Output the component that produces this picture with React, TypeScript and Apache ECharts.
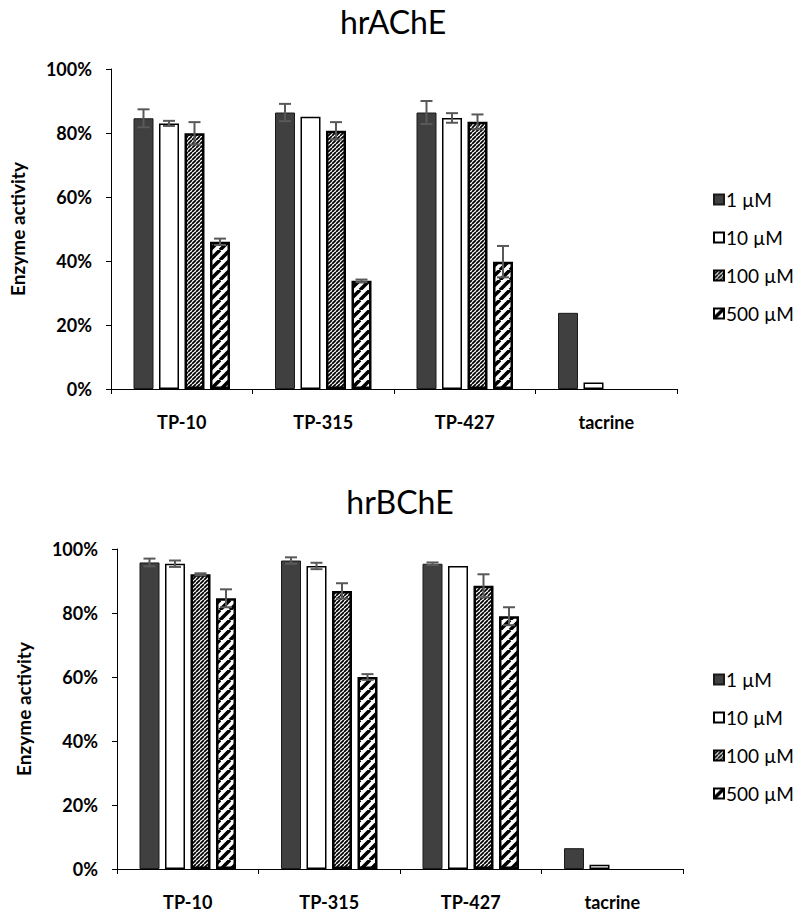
import React, { useEffect, useRef } from 'react';
import * as echarts from 'echarts';

const categories = ['TP-10', 'TP-315', 'TP-427', 'tacrine'];
const seriesNames = ['1 µM', '10 µM', '100 µM', '500 µM'];
const yTicks = [0, 20, 40, 60, 80, 100];

// hrAChE values (%)
const ache1 = [84.6, 86.4, 86.4, 23.8];
const ache10 = [83.0, 85.1, 84.7, 2.0];
const ache100 = [79.9, 80.7, 83.5, null];
const ache500 = [46.0, 33.8, 39.8, null];
const acheErr1 = [2.8, 2.7, 3.6, null];
const acheErr10 = [0.8, null, 1.5, null];
const acheErr100 = [3.5, 2.7, 2.3, null];
const acheErr500 = [1.0, 0.4, 4.9, null];

// hrBChE values (%)
const bche1 = [95.8, 96.4, 95.4, 6.5];
const bche10 = [95.4, 94.7, 94.7, 1.3];
const bche100 = [92.1, 86.9, 88.5, null];
const bche500 = [84.6, 60.0, 79.0, null];
const bcheErr1 = [1.2, 1.0, 0.4, null];
const bcheErr10 = [1.0, 1.0, null, null];
const bcheErr100 = [0.3, 2.4, 3.6, null];
const bcheErr500 = [2.8, 0.9, 2.8, null];

const FONT = 'Lato, "Open Sans", sans-serif';
const BAR_W = 20;
const BAR_GAP = 5.5;
const CAP = 6;

function hatch(size: number, lw: number) {
  const c = document.createElement('canvas');
  c.width = size;
  c.height = size;
  const ctx = c.getContext('2d')!;
  ctx.fillStyle = '#ffffff';
  ctx.fillRect(0, 0, size, size);
  ctx.strokeStyle = '#000000';
  ctx.lineWidth = lw;
  ctx.beginPath();
  for (const o of [-size, 0, size]) {
    ctx.moveTo(o, size);
    ctx.lineTo(o + size, 0);
  }
  ctx.stroke();
  return { image: c, repeat: 'repeat', imageWidth: size, imageHeight: size } as any;
}

export default function App() {
  const ref = useRef<HTMLDivElement>(null);
  useEffect(() => {
    document.body.style.margin = '0';
    const chart = echarts.init(ref.current!, null, { renderer: 'svg' });
    const fineHatch = hatch(4, 1.8);
    const wideHatch = hatch(10, 3.6);
    const styles = [
      { color: '#404040', borderColor: '#1a1a1a', borderWidth: 1 },
      { color: '#ffffff', borderColor: '#000000', borderWidth: 1.5 },
      { color: fineHatch, borderColor: '#000000', borderWidth: 2.5 },
      { color: wideHatch, borderColor: '#000000', borderWidth: 2.5 },
    ];
    const charts = [
      { vals: [ache1, ache10, ache100, ache500], errs: [acheErr1, acheErr10, acheErr100, acheErr500] },
      { vals: [bche1, bche10, bche100, bche500], errs: [bcheErr1, bcheErr10, bcheErr100, bcheErr500] },
    ];
    const grids = [
      { left: 110, top: 69, width: 567, height: 320 },
      { left: 117, top: 549, width: 566, height: 320 },
    ];
    const series: any[] = [];
    charts.forEach((c, k) => {
      c.vals.forEach((vals, i) => {
        series.push({
          type: 'bar',
          name: seriesNames[i],
          xAxisIndex: k,
          yAxisIndex: k,
          data: vals,
          barWidth: BAR_W,
          barGap: (BAR_GAP / BAR_W) * 100 + '%',
          itemStyle: styles[i],
        });
      });
      const items: any[] = [];
      c.errs.forEach((errs, i) => {
        errs.forEach((e, ci) => {
          const v = c.vals[i][ci];
          if (e != null && v != null) items.push([ci, v, e, i]);
        });
      });
      series.push({
        type: 'custom',
        xAxisIndex: k,
        yAxisIndex: k,
        z: 5,
        silent: true,
        encode: { x: 0, y: 1 },
        data: items,
        renderItem: (params: any, api: any) => {
          const ci = api.value(0);
          const v = api.value(1);
          const e = api.value(2);
          const si = api.value(3);
          const off = (si - 1.5) * (BAR_W + BAR_GAP);
          const top = api.coord([ci, v + e]);
          const bot = api.coord([ci, v - e]);
          const x = top[0] + off;
          const st = { stroke: '#595959', lineWidth: 2 };
          return {
            type: 'group',
            children: [
              { type: 'line', shape: { x1: x, y1: top[1], x2: x, y2: bot[1] }, style: st },
              { type: 'line', shape: { x1: x - CAP, y1: top[1], x2: x + CAP, y2: top[1] }, style: st },
              { type: 'line', shape: { x1: x - CAP, y1: bot[1], x2: x + CAP, y2: bot[1] }, style: st },
            ],
          };
        },
      });
    });

    const axisLine = { show: true, lineStyle: { color: '#000', width: 1 } };
    const option: any = {
      animation: false,
      backgroundColor: '#ffffff',
      grid: grids,
      graphic: [
        {
          type: 'text',
          x: 393,
          y: 5,
          style: { text: 'hrAChE', fontSize: 32, fontFamily: FONT, fill: '#000', textAlign: 'center', textVerticalAlign: 'top' },
        },
        {
          type: 'text',
          x: 400,
          y: 485,
          style: { text: 'hrBChE', fontSize: 32, fontFamily: FONT, fill: '#000', textAlign: 'center', textVerticalAlign: 'top' },
        },
      ],
      legend: [0, 1].map((k) => ({
        orient: 'vertical',
        left: 708,
        top: k === 0 ? 185 : 665,
        data: seriesNames,
        icon: 'rect',
        itemWidth: 10,
        itemHeight: 10,
        itemGap: 19,
        selectedMode: false,
        textStyle: { fontSize: 19, fontFamily: FONT, color: '#000', lineHeight: 19, padding: [0, 0, 0, -3] },
      })),
      xAxis: [0, 1].map((k) => ({
        type: 'category',
        gridIndex: k,
        data: categories,
        axisLine,
        axisTick: { show: true, length: 5, lineStyle: { color: '#000' } },
        axisLabel: { margin: 24, fontSize: 18, fontWeight: 'bold', fontFamily: FONT, color: '#000' },
      })),
      yAxis: [0, 1].map((k) => ({
        type: 'value',
        gridIndex: k,
        min: yTicks[0],
        max: yTicks[yTicks.length - 1],
        interval: yTicks[1] - yTicks[0],
        name: 'Enzyme activity',
        nameLocation: 'middle',
        nameGap: 84,
        nameRotate: 90,
        nameTextStyle: { fontSize: 19, fontWeight: 'bold', fontFamily: FONT, color: '#000' },
        axisLine,
        axisTick: { show: true, length: 5, lineStyle: { color: '#000' } },
        splitLine: { show: false },
        axisLabel: { margin: 19, fontSize: 18, fontWeight: 'bold', fontFamily: FONT, color: '#000', formatter: '{value}%' },
      })),
      series,
    };
    chart.setOption(option);
    return () => chart.dispose();
  }, []);
  return <div ref={ref} style={{ width: 800, height: 919 }} />;
}
